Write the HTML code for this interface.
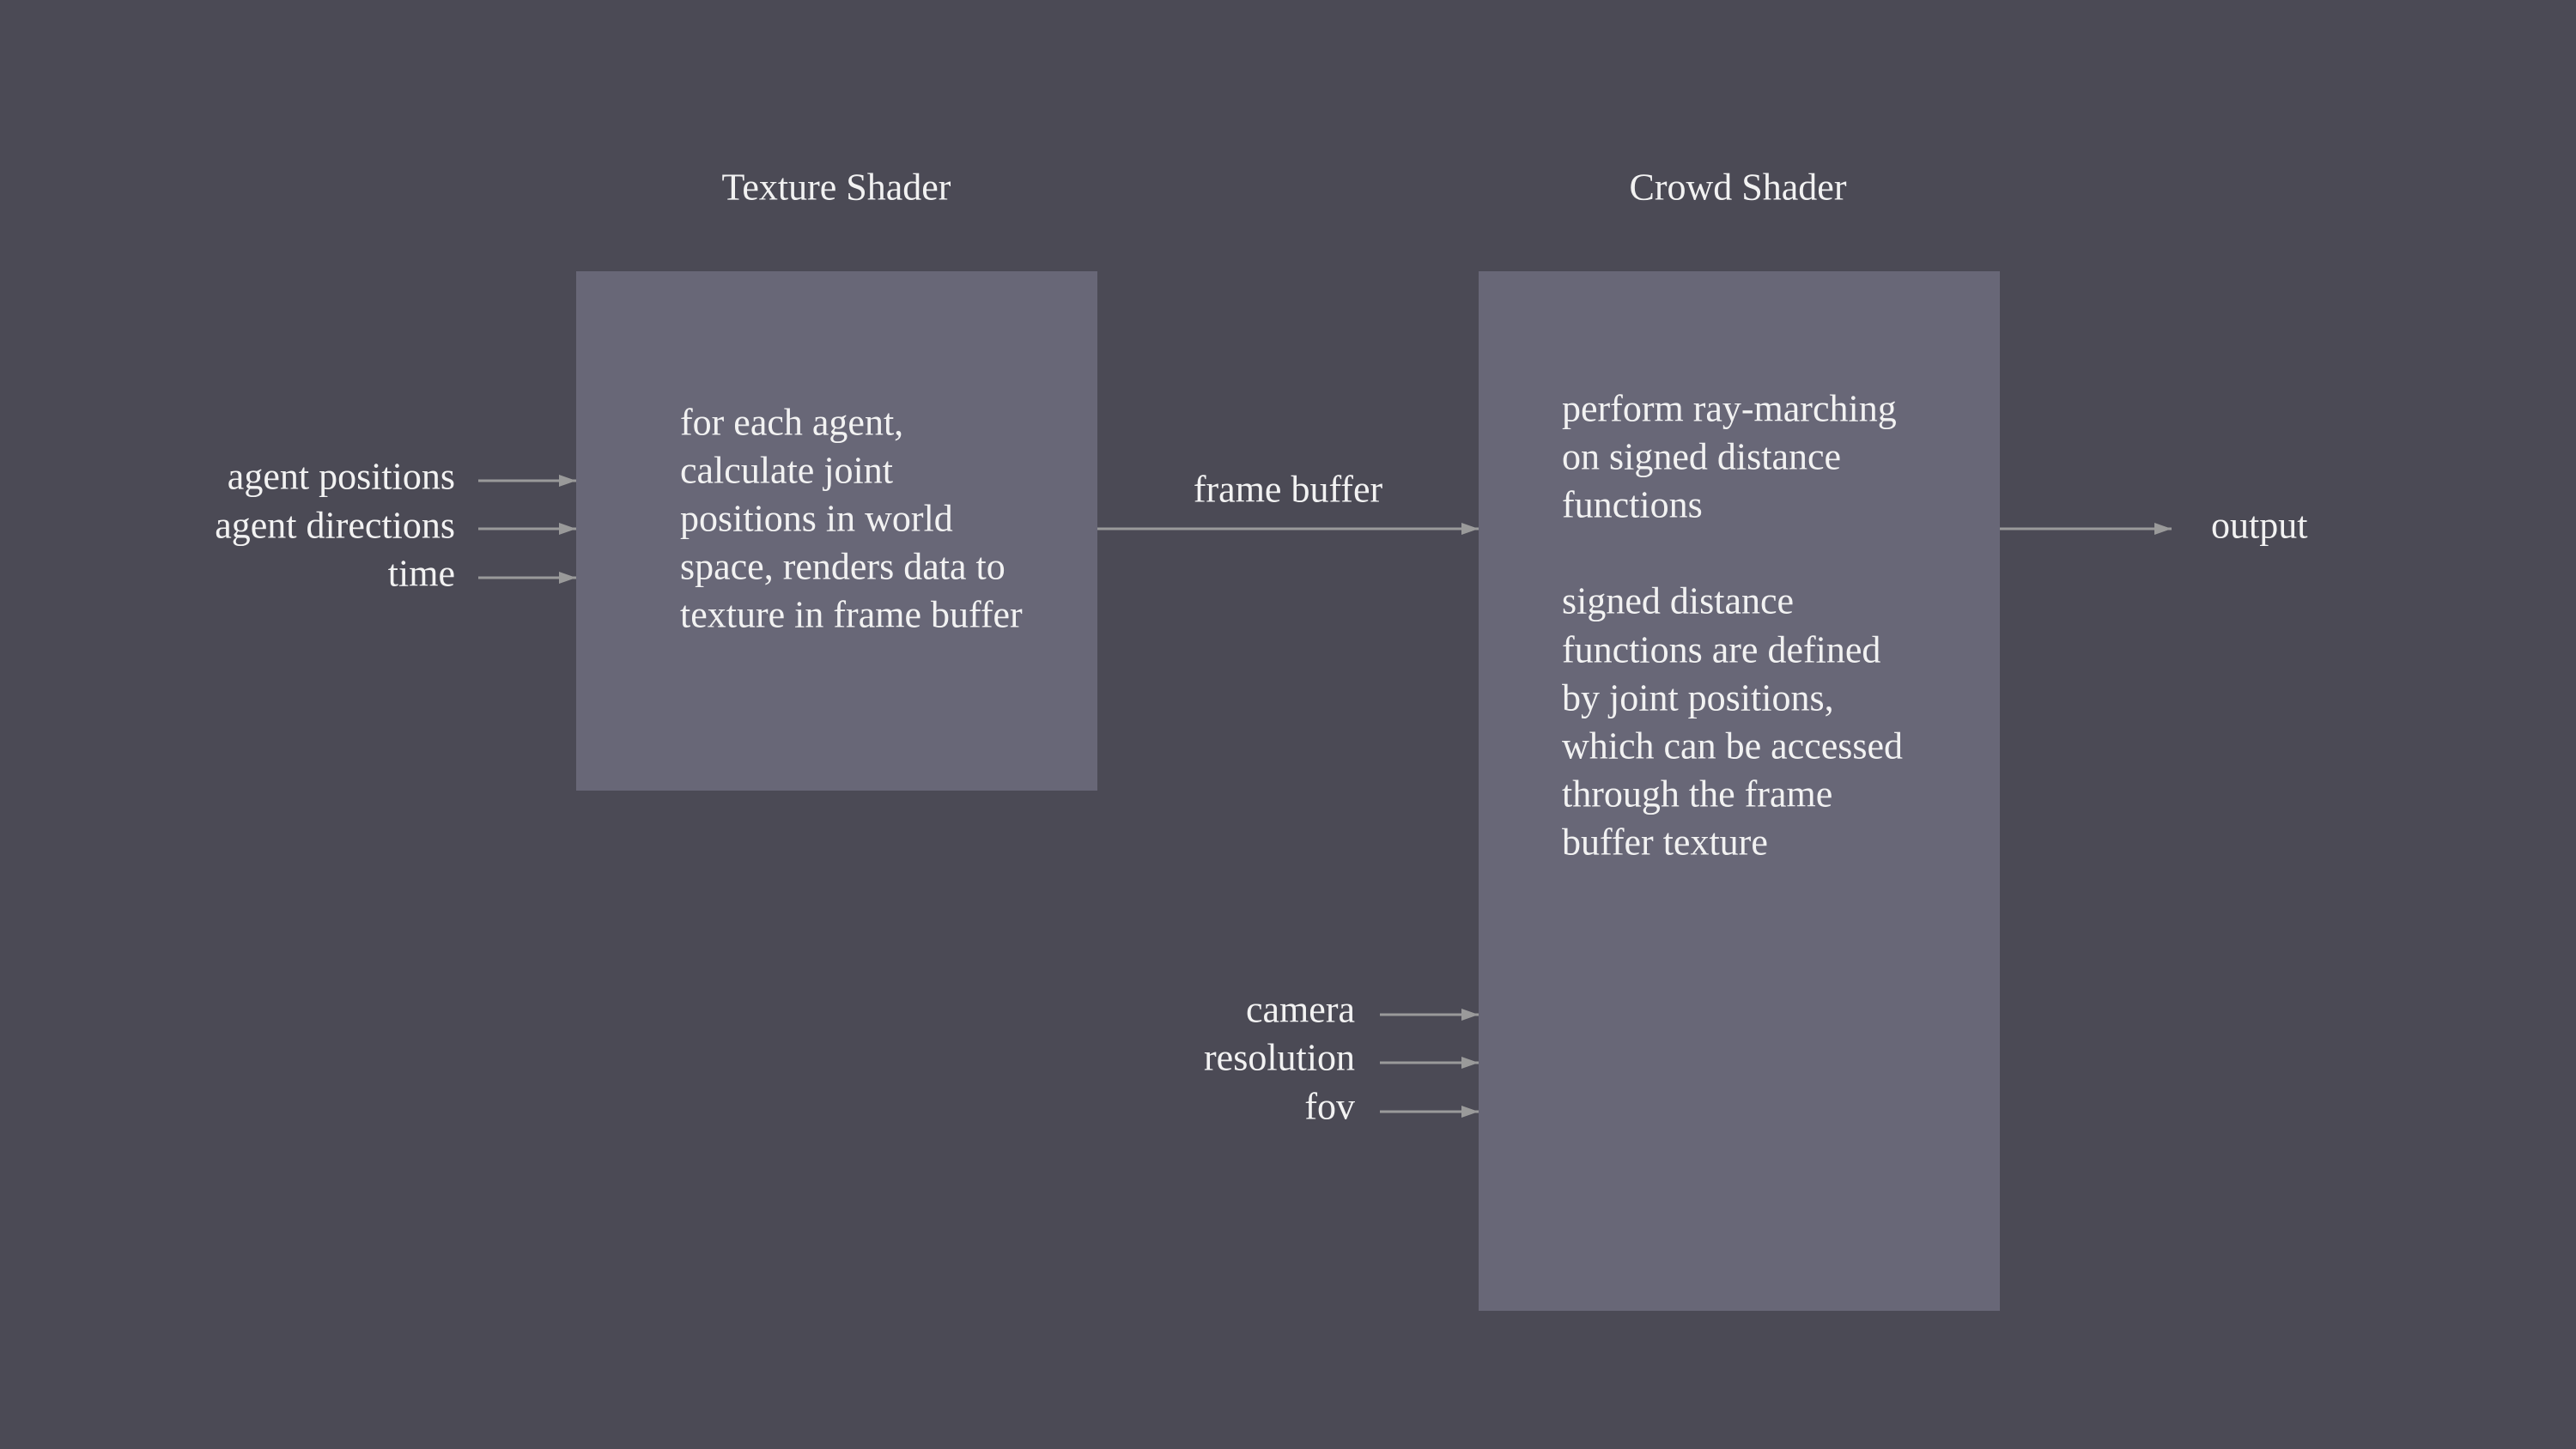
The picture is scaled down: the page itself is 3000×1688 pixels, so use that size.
<!DOCTYPE html>
<html><head><meta charset="utf-8"><style>
html,body{margin:0;padding:0;background:#4b4a55;}
svg{display:block;}
text{font-family:"Liberation Serif",serif;fill:#f2f2f2;font-size:44px;}
</style></head><body>
<svg width="3000" height="1688" viewBox="0 0 3000 1688" xmlns="http://www.w3.org/2000/svg">
<defs>
<marker id="b" markerWidth="20" markerHeight="14" refX="20" refY="7" orient="auto" markerUnits="userSpaceOnUse"><path d="M0,0 L20,7 L0,14z" fill="#9a9a9a"/></marker></defs>
<rect x="0" y="0" width="3000" height="1688" fill="#4b4a55"/>
<rect x="671" y="316" width="607" height="605" fill="#686777"/>
<rect x="1722" y="316" width="607" height="1211" fill="#686777"/>
<g stroke="#9a9a9a" stroke-width="3" marker-end="url(#b)">
<line x1="557" y1="560" x2="671" y2="560"/>
<line x1="557" y1="616" x2="671" y2="616"/>
<line x1="557" y1="673" x2="671" y2="673"/>
<line x1="1278" y1="616" x2="1722" y2="616"/>
<line x1="2329" y1="616" x2="2529" y2="616"/>
<line x1="1607" y1="1182" x2="1722" y2="1182"/>
<line x1="1607" y1="1238" x2="1722" y2="1238"/>
<line x1="1607" y1="1295" x2="1722" y2="1295"/>
</g>
<g dominant-baseline="central">
<text x="974" y="218" text-anchor="middle">Texture Shader</text>
<text x="2024" y="218" text-anchor="middle">Crowd Shader</text>
<g text-anchor="end">
<text x="530" y="555">agent positions</text>
<text x="530" y="612">agent directions</text>
<text x="530" y="668">time</text>
<text x="1578" y="1176">camera</text>
<text x="1578" y="1232">resolution</text>
<text x="1578" y="1289">fov</text>
</g>
<text x="1500" y="570" text-anchor="middle">frame buffer</text>
<text x="2575" y="612">output</text>
<text x="792" y="492">for each agent,</text>
<text x="792" y="548">calculate joint</text>
<text x="792" y="604">positions in world</text>
<text x="792" y="660">space, renders data to</text>
<text x="792" y="716">texture in frame buffer</text>
<text x="1819" y="476">perform ray-marching</text>
<text x="1819" y="532">on signed distance</text>
<text x="1819" y="588">functions</text>
<text x="1819" y="700">signed distance</text>
<text x="1819" y="757">functions are defined</text>
<text x="1819" y="813">by joint positions,</text>
<text x="1819" y="869">which can be accessed</text>
<text x="1819" y="925">through the frame</text>
<text x="1819" y="981">buffer texture</text>
</g>
</svg>
</body></html>
